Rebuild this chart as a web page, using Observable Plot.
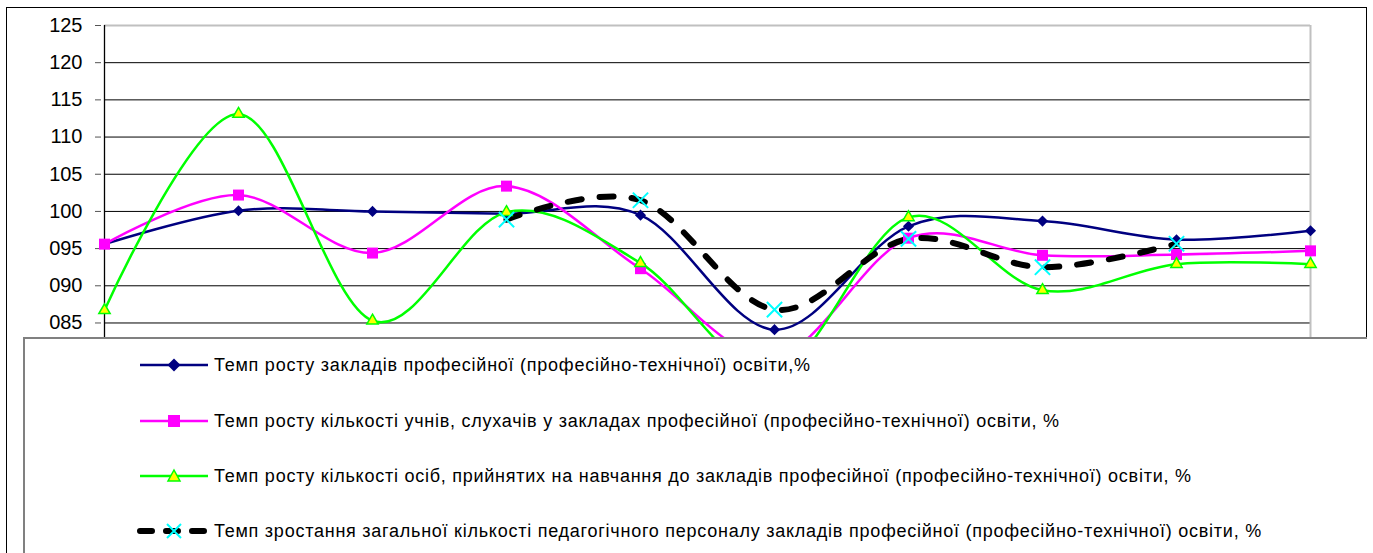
<!DOCTYPE html>
<html>
<head>
<meta charset="utf-8">
<script src="https://cdn.jsdelivr.net/npm/d3@7"></script>
<script src="https://cdn.jsdelivr.net/npm/@observablehq/plot@0.6"></script>
<style>
  body { margin: 0; background: #fff; }
  #wrap { position: relative; width: 1373px; height: 553px; overflow: hidden; background: #fff; font-family: Arial, "Liberation Sans", sans-serif; }
  #wrap > svg { position: absolute; left: 0; top: 0; }
  #outer { position: absolute; left: 6px; top: 7px; width: 1361px; height: 600px; border: 1.5px solid #000; box-sizing: border-box; pointer-events: none; }
  #legend { position: absolute; left: 23px; top: 337px; width: 1344px; height: 300px; background: #fff; border-top: 2px solid #808080; border-left: 2px solid #808080; box-sizing: border-box; }
  .row { position: absolute; left: 0; height: 24px; }
  .row svg { position: absolute; left: 107px; top: 0; }
  .row span { position: absolute; left: 189px; top: 0; line-height: 24px; font-size: 18px; letter-spacing: 0.75px; color: #000; white-space: nowrap; }
</style>
</head>
<body>
<div id="wrap"></div>
<script>
// ---- data ----
const years = [2010, 2011, 2012, 2013, 2014, 2015, 2016, 2017, 2018, 2019];
const institutions = [95.6, 100.1, 100.0, 99.7, 99.5, 84.1, 98.0, 98.7, 96.2, 97.4];
const students     = [95.6, 102.2, 94.4, 103.4, 92.3, 80.5, 96.4, 94.1, 94.2, 94.7];
const admitted     = [86.7, 113.1, 85.3, 99.9, 93.05, 78.3, 99.2, 89.4, 92.9, 92.9];
const staff        = [null, null, null, 98.9, 101.5, 86.8, 96.3, 92.5, 95.65, null];
const yTicks = [85, 90, 95, 100, 105, 110, 115, 120, 125];
const seriesNames = [
  "Темп росту закладів професійної (професійно-технічної) освіти,%",
  "Темп росту кількості учнів, слухачів у закладах професійної (професійно-технічної) освіти, %",
  "Темп росту кількості осіб, прийнятих на навчання до закладів професійної (професійно-технічної) освіти, %",
  "Темп зростання загальної кількості педагогічного персоналу закладів професійної (професійно-технічної) освіти, %"
];

const toRows = (vals) => years.map((year, i) => ({year, v: vals[i]}));
const s1 = toRows(institutions), s2 = toRows(students), s3 = toRows(admitted), s4 = toRows(staff);
const first = years[0], last = years[years.length - 1];

const chart = Plot.plot({
  width: 1373,
  height: 553,
  marginLeft: 101,
  marginRight: 60,
  marginTop: 25,
  marginBottom: 44.6,
  style: {fontFamily: 'Arial, "Liberation Sans", sans-serif', fontSize: "20px", color: "#000", background: "transparent"},
  x: {type: "point", domain: years, padding: 0, axis: null},
  y: {domain: [60, 125], axis: null},
  marks: [
    Plot.ruleY(yTicks.filter(d => d < 125), {x1: first, x2: last, stroke: "#000", strokeWidth: 1}),
    Plot.ruleY([125], {x1: first, x2: last, stroke: "#c0c0c0", strokeWidth: 2}),
    Plot.ruleX([last], {y1: 125, y2: 75, stroke: "#c0c0c0", strokeWidth: 2}),
    Plot.ruleX([first], {y1: 125, y2: 75, stroke: "#000", strokeWidth: 1.3}),
    Plot.axisY(yTicks, {anchor: "left", label: null, tickSize: 6, tickPadding: 13, fontSize: 20, stroke: "#555",
      tickFormat: d => String(d).padStart(3, "0")}),
    Plot.line(s1, {x: "year", y: "v", curve: "cardinal", stroke: "#000080", strokeWidth: 2.5}),
    Plot.line(s2, {x: "year", y: "v", curve: "cardinal", stroke: "#ff00ff", strokeWidth: 2.5}),
    Plot.line(s3, {x: "year", y: "v", curve: "cardinal", stroke: "#00ff00", strokeWidth: 2.5}),
    Plot.line(s4, {x: "year", y: "v", curve: "cardinal", stroke: "#000", strokeWidth: 6,
      strokeDasharray: "14,18", strokeLinecap: "round"}),
    Plot.dot(s1, {x: "year", y: "v", symbol: "diamond2", r: 5, fill: "#000080", stroke: "none"}),
    Plot.dot(s2, {x: "year", y: "v", symbol: "square", r: 6.2, fill: "#ff00ff", stroke: "none"}),
    Plot.dot(s3, {x: "year", y: "v", symbol: "triangle", r: 4.2, fill: "#ffff00", stroke: "#00ff00", strokeWidth: 1.5}),
    Plot.dot(s4.filter(d => d.v != null), {x: "year", y: "v", symbol: "times", r: 7, stroke: "#00ffff", strokeWidth: 2})
  ]
});

const wrap = document.getElementById("wrap");
wrap.appendChild(chart);

const outer = document.createElement("div");
outer.id = "outer";
wrap.appendChild(outer);

// ---- legend ----
const legend = document.createElement("div");
legend.id = "legend";
wrap.appendChild(legend);
const rowCenters = [26, 81.5, 137, 192];
const ns = "http://www.w3.org/2000/svg";
const swatches = [
  `<line x1="8" y1="12" x2="76" y2="12" stroke="#000080" stroke-width="2.5"/><path d="M42,5.5 L48.5,12 L42,18.5 L35.5,12 Z" fill="#000080"/>`,
  `<line x1="8" y1="12" x2="76" y2="12" stroke="#ff00ff" stroke-width="2.5"/><rect x="36" y="6" width="12" height="12" fill="#ff00ff"/>`,
  `<line x1="8" y1="12" x2="76" y2="12" stroke="#00ff00" stroke-width="2.5"/><path d="M42,6 L48,17 L36,17 Z" fill="#ffff00" stroke="#00ff00" stroke-width="1.5"/>`,
  `<line x1="8" y1="12" x2="76" y2="12" stroke="#000" stroke-width="6" stroke-dasharray="12,14" stroke-linecap="round"/><path d="M35,5 L49,19 M49,5 L35,19" stroke="#00ffff" stroke-width="2"/>`
];
seriesNames.forEach((name, i) => {
  const row = document.createElement("div");
  row.className = "row";
  row.style.top = (rowCenters[i] - 12) + "px";
  row.style.width = "1300px";
  row.innerHTML = `<svg width="84" height="24" xmlns="${ns}">${swatches[i]}</svg><span>${name}</span>`;
  legend.appendChild(row);
});
</script>
</body>
</html>
